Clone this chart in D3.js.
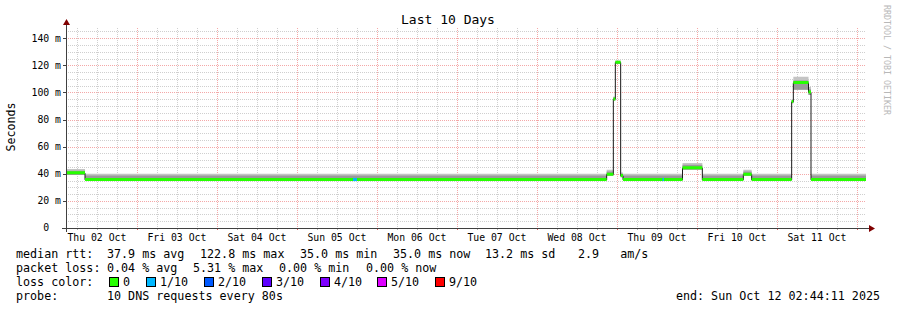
<!DOCTYPE html>
<html>
<head>
<meta charset="utf-8">
<script src="https://cdn.jsdelivr.net/npm/d3@7"></script>
<style>
body { margin: 0; background: #fff; }
svg text { font-family: "DejaVu Sans Mono", monospace; white-space: pre; }
</style>
</head>
<body>
<div id="chart"></div>
<script>
// time window: 10 days ending at the "end:" stamp (treated as UTC so the sandbox timezone doesn't matter)
const endTime = Date.UTC(2025, 9, 12, 2, 44, 11);
const startTime = endTime - 10 * 24 * 3600 * 1000;

// median rtt as steps: hours since start, values in ms
const segStartHours = [0, 5.7, 162.2, 164.2, 164.8, 166.4, 167.1, 184.95, 190.9, 203.2, 205.7, 217.7, 218.2, 222.75, 223.5];
const medianMs      = [40.5, 35.5, 39.5, 95, 122, 38.5, 35.5, 44.2, 35.5, 39.5, 35.5, 93, 107, 100, 35.5];
const smokeLowMs    = [39.0, 35.5, 38.5, 94, 121, 37.5, 35.5, 43.0, 35.5, 38.5, 35.5, 92, 102, 98, 35.5];
const smokeHighMs   = [43.5, 40.0, 43.0, 97, 123.5, 41, 40.0, 48.0, 40.0, 43.0, 40.0, 95, 111.5, 104, 40.0];

// packet loss events (hours since start) and their loss bucket
const lossStartHours = [86.1, 178.95];
const lossEndHours   = [87.3, 179.4];
const lossLevel      = [1, 1];

const lossLabels = ["0", "1/10", "2/10", "3/10", "4/10", "5/10", "9/10"];
const lossColors = ["#26ff00", "#00b8ff", "#0059ff", "#5e00ff", "#7e00ff", "#dd00ff", "#ff0000"];

const rttStats  = ["37.9 ms avg", "122.8 ms max", "35.0 ms min", "35.0 ms now", "13.2 ms sd", "2.9   am/s"];
const lossStats = ["0.04 % avg", "5.31 % max", "0.00 % min", "0.00 % now"];

const width = 897;
const height = 310;
const plotLeft = 66, plotRight = 866, plotTop = 28, plotBottom = 228;

const svg = d3.select("#chart")
    .append("svg")
    .attr("width", width)
    .attr("height", height);

const x = d3.scaleUtc()
    .domain([new Date(startTime), new Date(endTime)])
    .range([plotLeft, plotRight]);

const y = d3.scaleLinear()
    .domain([0, 147.5])
    .range([plotBottom, plotTop]);

const toDate = h => new Date(startTime + h * 3600 * 1000);

// step points, last one repeated at the end of the window
const pts = segStartHours.map((h, i) => ({
    t: toDate(h), med: medianMs[i], lo: smokeLowMs[i], hi: smokeHighMs[i]
}));
pts.push({...pts[pts.length - 1], t: new Date(endTime)});

// grid
const minorX = d3.utcHour.every(6).range(new Date(startTime), new Date(endTime));
const majorX = d3.utcDay.range(new Date(startTime), new Date(endTime));
const minorY = d3.range(5, 148, 5);
const majorY = d3.range(20, 148, 20);

const grid = svg.append("g").attr("stroke-dasharray", "1,1").attr("stroke-width", 1);

grid.selectAll(".hmin").data(minorY).enter().append("line")
    .attr("x1", plotLeft).attr("x2", plotRight)
    .attr("y1", d => Math.round(y(d)) + 0.5).attr("y2", d => Math.round(y(d)) + 0.5)
    .attr("stroke", "#cfcfcf");

grid.selectAll(".vmin").data(minorX).enter().append("line")
    .attr("x1", d => Math.round(x(d)) + 0.5).attr("x2", d => Math.round(x(d)) + 0.5)
    .attr("y1", plotTop).attr("y2", plotBottom)
    .attr("stroke", "#cfcfcf");

grid.selectAll(".hmaj").data(majorY).enter().append("line")
    .attr("x1", plotLeft).attr("x2", plotRight)
    .attr("y1", d => Math.round(y(d)) + 0.5).attr("y2", d => Math.round(y(d)) + 0.5)
    .attr("stroke", "#f4a8a8");

grid.selectAll(".vmaj").data(majorX).enter().append("line")
    .attr("x1", d => Math.round(x(d)) + 0.5).attr("x2", d => Math.round(x(d)) + 0.5)
    .attr("y1", plotTop).attr("y2", plotBottom)
    .attr("stroke", "#f4a8a8");

// smoke
svg.append("path")
    .datum(pts)
    .attr("fill", "#c4c4c4")
    .attr("d", d3.area().curve(d3.curveStepAfter)
        .x(d => x(d.t)).y0(d => y(d.lo)).y1(d => y(d.hi)));

svg.append("path")
    .datum(pts)
    .attr("fill", "#9a9a9a")
    .attr("d", d3.area().curve(d3.curveStepAfter)
        .x(d => x(d.t)).y0(d => y(d.lo)).y1(d => y(d.lo + (d.hi - d.lo) * 0.72)));

// median line
svg.append("path")
    .datum(pts)
    .attr("fill", "none")
    .attr("stroke", "#1a1a1a")
    .attr("stroke-width", 1)
    .attr("d", d3.line().curve(d3.curveStepAfter)
        .x(d => x(d.t)).y(d => y(d.med)));

// median band coloured by loss (all 0 here except the events below)
svg.append("path")
    .datum(pts)
    .attr("fill", lossColors[0])
    .attr("d", d3.area().curve(d3.curveStepAfter)
        .x(d => x(d.t)).y0(d => y(d.med) + 1.2).y1(d => y(d.med) - 1.8));

lossStartHours.forEach((h, i) => {
    const k = d3.bisectRight(segStartHours, h) - 1;
    svg.append("rect")
        .attr("x", x(toDate(h)))
        .attr("width", x(toDate(lossEndHours[i])) - x(toDate(h)))
        .attr("y", y(medianMs[k]) - 1.8)
        .attr("height", 3)
        .attr("fill", lossColors[lossLevel[i]]);
});

// axes
const axisColor = "#404040";
const arrowColor = "#800000";

svg.selectAll(".xtick").data(minorX).enter().append("line")
    .attr("x1", d => Math.round(x(d)) + 0.5).attr("x2", d => Math.round(x(d)) + 0.5)
    .attr("y1", plotBottom).attr("y2", plotBottom + 2)
    .attr("stroke", d => d.getUTCHours() === 0 ? "#e06060" : "#b0b0b0");

svg.selectAll(".ytick").data(majorY.concat([0])).enter().append("line")
    .attr("x1", plotLeft - 3).attr("x2", plotLeft)
    .attr("y1", d => Math.round(y(d)) + 0.5).attr("y2", d => Math.round(y(d)) + 0.5)
    .attr("stroke", axisColor);

svg.append("line")
    .attr("x1", plotLeft - 4).attr("x2", plotRight + 3)
    .attr("y1", plotBottom + 0.5).attr("y2", plotBottom + 0.5)
    .attr("stroke", axisColor);

svg.append("line")
    .attr("x1", plotLeft + 0.5).attr("x2", plotLeft + 0.5)
    .attr("y1", plotBottom + 4).attr("y2", plotTop - 4)
    .attr("stroke", axisColor);

svg.append("path")
    .attr("d", `M${plotRight + 3},${plotBottom - 3}L${plotRight + 9},${plotBottom + 0.5}L${plotRight + 3},${plotBottom + 4}Z`)
    .attr("fill", arrowColor);

svg.append("path")
    .attr("d", `M${plotLeft - 3},${plotTop - 3}L${plotLeft + 0.5},${plotTop - 9}L${plotLeft + 4},${plotTop - 3}Z`)
    .attr("fill", arrowColor);

// y tick labels
svg.selectAll(".ylab").data([0].concat(majorY)).enter().append("text")
    .attr("x", 61)
    .attr("y", d => y(d))
    .attr("dy", "0.35em")
    .attr("text-anchor", "end")
    .attr("font-size", "9.8px")
    .attr("fill", "#000")
    .text(d => d === 0 ? "0  " : d + " m");

// x tick labels at noon of each day
const noons = d3.utcDay.range(d3.utcDay.floor(new Date(startTime)), new Date(endTime))
    .map(d => d3.utcHour.offset(d, 12))
    .filter(d => d >= startTime && d <= endTime);

svg.selectAll(".xlab").data(noons).enter().append("text")
    .attr("x", d => x(d))
    .attr("y", 241)
    .attr("text-anchor", "middle")
    .attr("font-size", "9.8px")
    .attr("fill", "#000")
    .text(d => d3.utcFormat("%a %d %b")(d));

// title, axis label, watermark
svg.append("text")
    .attr("x", 448).attr("y", 24)
    .attr("text-anchor", "middle")
    .attr("font-size", "13px")
    .text("Last 10 Days");

svg.append("text")
    .attr("transform", "translate(15,127) rotate(-90)")
    .attr("text-anchor", "middle")
    .attr("font-size", "11.6px")
    .text("Seconds");

svg.append("text")
    .attr("transform", "translate(884,5) rotate(90)")
    .attr("font-size", "8.3px")
    .attr("fill", "#b8b8b8")
    .text("RRDTOOL / TOBI OETIKER");

// legend
const legendFont = "11.7px";
const rttX = [107, 200, 300, 393, 485, 578];
const lossX = [107, 193, 279, 366];

const legend = svg.append("g").attr("font-size", legendFont).attr("fill", "#000");

legend.append("text").attr("x", 16).attr("y", 258).text("median rtt:");
legend.selectAll(".rtt").data(rttStats).enter().append("text")
    .attr("x", (d, i) => rttX[i]).attr("y", 258).text(d => d);

legend.append("text").attr("x", 16).attr("y", 272).text("packet loss:");
legend.selectAll(".loss").data(lossStats).enter().append("text")
    .attr("x", (d, i) => lossX[i]).attr("y", 272).text(d => d);

legend.append("text").attr("x", 16).attr("y", 286).text("loss color:");
const boxX = [109, 146, 204, 262, 320, 377, 435];
const items = legend.selectAll(".item").data(lossLabels).enter().append("g");
items.append("rect")
    .attr("x", (d, i) => boxX[i] + 0.5).attr("y", 277.5)
    .attr("width", 9).attr("height", 9)
    .attr("fill", (d, i) => lossColors[i])
    .attr("stroke", "#000");
items.append("text")
    .attr("x", (d, i) => boxX[i] + 14).attr("y", 286)
    .text(d => d);

legend.append("text").attr("x", 16).attr("y", 300).text("probe:");
legend.append("text").attr("x", 107).attr("y", 300).text("10 DNS requests every 80s");
legend.append("text").attr("x", 880).attr("y", 300).attr("text-anchor", "end")
    .text("end: Sun Oct 12 02:44:11 2025");
</script>
</body>
</html>
